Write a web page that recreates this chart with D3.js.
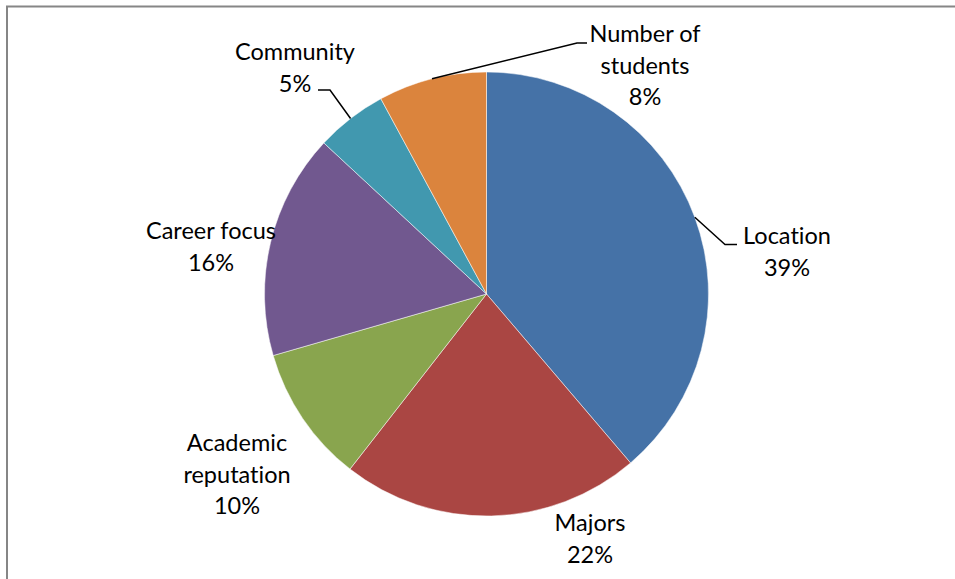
<!DOCTYPE html>
<html><head><meta charset="utf-8">
<script src="https://cdn.jsdelivr.net/npm/d3@7"></script>
<style>body{margin:0;background:#fff}svg{display:block}text{font-family:Lato,"Open Sans",sans-serif;fill:#000;font-variant-ligatures:none;font-feature-settings:"liga" 0}</style>
</head><body>
<script>
const categories = ["Location","Majors","Academic reputation","Career focus","Community","Number of students"];
const values = [38.8, 21.8, 10.0, 16.4, 5.2, 7.9];
const percentLabels = ["39%","22%","10%","16%","5%","8%"];
const labelLines = [["Location"],["Majors"],["Academic","reputation"],["Career focus"],["Community"],["Number of","students"]];
const colors = ["#4572A7","#AA4643","#89A54E","#71588F","#4198AF","#DB843D"];

const W = 955, H = 579;
const cx = 486.5, cy = 294, R = 222;
const svg = d3.select("body").append("svg").attr("width", W).attr("height", H);

// frame
svg.append("path").attr("d", `M7,${H+5}V6.5H${W+5}`).attr("fill","none").attr("stroke","#868686").attr("stroke-width",2);

const pie = d3.pie().sort(null).value(d => d);
const arcs = pie(values);
const arc = d3.arc().innerRadius(0).outerRadius(R);
const g = svg.append("g").attr("transform", `translate(${cx},${cy})`);
g.selectAll("path.slice").data(arcs).enter().append("path")
  .attr("class","slice").attr("d", arc)
  .attr("fill", (d,i) => colors[i]).attr("stroke","#fff").attr("stroke-width",0.5);

// label placements (center x, first baseline y) relative to page
const labelPos = [
  {x: 787, y: 244, lead: [[725,244.5],[737,244.5]]},
  {x: 590, y: 531},
  {x: 237, y: 451},
  {x: 211, y: 239},
  {x: 295, y: 60, lead: [[330,90],[318,90]]},
  {x: 645, y: 42, lead: [[577,43],[587,43]]}
];
const lineH = 31.5;
arcs.forEach((a, i) => {
  const p = labelPos[i];
  const lines = labelLines[i].concat([percentLabels[i]]);
  const t = svg.append("text").attr("text-anchor","middle").attr("font-size",23.5);
  lines.forEach((s, k) => t.append("tspan").attr("x", p.x).attr("y", p.y + k*lineH).text(s));
  if (p.lead) {
    const mid = (a.startAngle + a.endAngle)/2;
    const sx = cx + R*Math.sin(mid), sy = cy - R*Math.cos(mid);
    const pts = [[sx,sy]].concat(p.lead);
    svg.append("path").attr("d", d3.line()(pts)).attr("fill","none").attr("stroke","#000").attr("stroke-width",1.5);
  }
});
</script>
</body></html>
